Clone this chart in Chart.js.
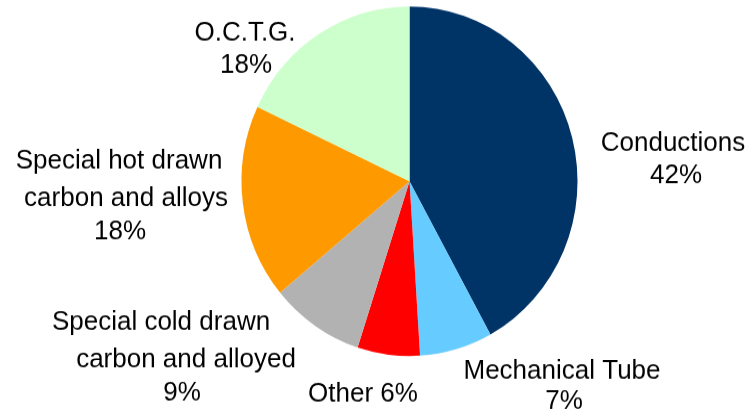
<!DOCTYPE html>
<html>
<head>
<meta charset="utf-8">
<script src="https://cdn.jsdelivr.net/npm/chart.js@4/dist/chart.umd.min.js"></script>
<style>
  html, body { margin: 0; padding: 0; background: #fff; overflow: hidden; }
  /* the pie is a little taller than wide, so the drawing is stretched vertically */
  #wrap { position: absolute; left: 0; top: 0; width: 749px; height: 396px;
          transform: scaleY(1.0404); transform-origin: 0 0; }
</style>
</head>
<body>
<div id="wrap"><canvas id="chart"></canvas></div>
<script>
const categories = ['Conductions', 'Mechanical Tube', 'Other',
  'Special cold drawn\ncarbon and alloyed', 'Special hot drawn\ncarbon and alloys', 'O.C.T.G.'];
const shares = [42, 7, 6, 9, 18, 18];
const colors = ['#003366', '#66CCFF', '#FF0000', '#B2B2B2', '#FF9900', '#CCFFCC'];

// where each label goes: separator before the percentage, then x / cap-middle y per line
const labelLayout = [
  { sep: '\n', at: [[673, 141], [676, 173]] },
  { sep: '\n', at: [[562, 369], [564, 399]] },
  { sep: ' ',  at: [[363, 392]] },
  { sep: '\n', at: [[161, 320], [186, 358], [182, 391]] },
  { sep: '\n', at: [[119, 159], [126, 196], [120, 230]] },
  { sep: '\n', at: [[245, 31], [246, 63]] },
];

const STRETCH = 412 / 396;
const FONT_SIZE = 26;

const sliceLabels = {
  id: 'sliceLabels',
  afterDatasetsDraw(chart) {
    const c = chart.ctx;
    c.save();
    c.font = `${FONT_SIZE}px "Liberation Sans", Arial, sans-serif`;
    c.fillStyle = '#000';
    c.textAlign = 'center';
    c.textBaseline = 'alphabetic';
    categories.forEach((name, i) => {
      const layout = labelLayout[i];
      const lines = (name + layout.sep + shares[i] + '%').split('\n');
      lines.forEach((line, j) => {
        const [x, y] = layout.at[j];
        c.fillText(line, x, y / STRETCH + FONT_SIZE * 0.358);
      });
    });
    c.restore();
  }
};

new Chart(document.getElementById('chart'), {
  type: 'pie',
  data: {
    labels: categories,
    datasets: [{
      data: shares,
      backgroundColor: colors,
      borderWidth: 0,
      hoverOffset: 0,
    }],
  },
  options: {
    responsive: true,
    maintainAspectRatio: false,
    animation: false,
    events: [],
    layout: {
      padding: { left: 241.5, right: 171.5, top: 6.2, bottom: 53.8 }
    },
    plugins: {
      legend: { display: false },
      tooltip: { enabled: false },
    },
  },
  plugins: [sliceLabels],
});
</script>
</body>
</html>
